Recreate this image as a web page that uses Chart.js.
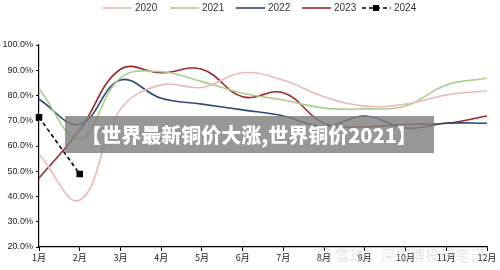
<!DOCTYPE html>
<html>
<head>
<meta charset="utf-8">
<script src="https://cdn.jsdelivr.net/npm/chart.js@4"></script>
<style>
    html, body { margin: 0; padding: 0; background: #fff; }
    #wrap { width: 500px; height: 270px; position: relative; }
</style>
</head>
<body>
<div id="wrap"><canvas id="chart"></canvas></div>
<script>
const months = ['1月', '2月', '3月', '4月', '5月', '6月', '7月', '8月', '9月', '10月', '11月', '12月'];
const years = ['2020', '2021', '2022', '2023', '2024'];
const y2020 = [56.8, 38.6, 74.5, 84.2, 83.2, 89.0, 86.0, 79.5, 75.8, 76.6, 80.2, 81.9];
const y2021 = [82.8, 62.8, 87.0, 89.4, 85.5, 80.9, 78.2, 75.0, 74.7, 75.8, 84.2, 86.8];
const y2022 = [78.5, 68.6, 86.1, 78.9, 76.6, 74.3, 71.9, 67.6, 71.9, 67.1, 69.0, 69.0];
const y2023 = [47.3, 66.3, 90.4, 89.0, 90.4, 79.5, 81.1, 69.0, 67.6, 68.6, 69.0, 71.9];
const y2024 = [71.4, 48.9];
const yTicks = [20, 30, 40, 50, 60, 70, 80, 90, 100];
const banner = '【世界最新铜价大涨,世界铜价2021】';
const watermark = '雪球：深福博投研笔记';

const colors = ['#e8b9b8', '#a9cf8c', '#2e4a7a', '#9e2a2b', '#000000'];

function lineSet(label, data, color) {
    return {
        label: label,
        data: data,
        borderColor: color,
        backgroundColor: color,
        borderWidth: 1.6,
        pointRadius: 0,
        tension: 0.4,
        fill: false,
    };
}

const datasets = [
    lineSet(years[0], y2020, colors[0]),
    lineSet(years[1], y2021, colors[1]),
    lineSet(years[2], y2022, colors[2]),
    lineSet(years[3], y2023, colors[3]),
    {
        label: years[4],
        data: y2024,
        borderColor: colors[4],
        backgroundColor: colors[4],
        borderWidth: 1.6,
        borderDash: [4, 3],
        pointStyle: 'rect',
        pointRadius: 3.5,
        tension: 0,
        fill: false,
    },
];

// legend drawn on top, lines instead of boxes
const legendPlugin = {
    id: 'lineLegend',
    afterDraw(chart) {
        const ctx = chart.ctx;
        const startX = [103, 170, 236, 302, 362];
        ctx.save();
        ctx.font = '10px "Liberation Sans", Arial, sans-serif';
        ctx.textBaseline = 'middle';
        chart.data.datasets.forEach((ds, i) => {
            const x = startX[i];
            const y = 8;
            ctx.beginPath();
            ctx.strokeStyle = ds.borderColor;
            ctx.lineWidth = 1.6;
            ctx.setLineDash(ds.borderDash || []);
            ctx.moveTo(x, y);
            ctx.lineTo(x + 29, y);
            ctx.stroke();
            ctx.setLineDash([]);
            if (ds.pointStyle === 'rect') {
                ctx.fillStyle = ds.borderColor;
                ctx.fillRect(x + 11, y - 3, 6, 6);
            }
            ctx.fillStyle = '#333';
            ctx.fillText(ds.label, x + 32, y + 0.5);
        });
        ctx.restore();
    }
};

// grey title strip and faint watermark over the plot
const overlayPlugin = {
    id: 'overlay',
    afterDraw(chart) {
        const ctx = chart.ctx;
        ctx.save();
        ctx.fillStyle = 'rgba(128,128,128,0.82)';
        ctx.fillRect(65, 116, 369, 37);
        ctx.fillStyle = '#fff';
        ctx.font = '900 20px "Noto Sans CJK SC", sans-serif';
        ctx.textAlign = 'center';
        ctx.textBaseline = 'middle';
        ctx.fillText(banner, 249, 135);

        ctx.fillStyle = 'rgba(170,170,170,0.4)';
        ctx.strokeStyle = 'rgba(170,170,170,0.45)';
        ctx.lineWidth = 1;
        ctx.beginPath();
        ctx.arc(325, 254, 6, 0, 2 * Math.PI);
        ctx.stroke();
        ctx.font = '300 15px "Noto Sans CJK SC", sans-serif';
        ctx.textAlign = 'left';
        ctx.fillText(watermark, 335, 255);
        ctx.restore();
    }
};

new Chart(document.getElementById('chart'), {
    type: 'line',
    data: { labels: months, datasets: datasets },
    options: {
        responsive: true,
        maintainAspectRatio: false,
        animation: false,
        layout: { padding: { top: 45, right: 13, left: 0, bottom: 0 } },
        plugins: {
            legend: { display: false },
            tooltip: { enabled: false },
        },
        scales: {
            x: {
                offset: false,
                afterFit: (s) => { s.height = 23; },
                grid: { display: true, drawOnChartArea: false, drawTicks: true, tickLength: 4, color: '#000' },
                border: { display: true, color: '#000', width: 1.2 },
                ticks: {
                    color: '#222',
                    font: { size: 9, family: '"Noto Sans CJK SC", sans-serif' },
                    padding: 1,
                    maxRotation: 0,
                    autoSkip: false,
                },
            },
            y: {
                min: yTicks[0],
                max: yTicks[yTicks.length - 1],
                afterFit: (s) => { s.width = 39; },
                afterBuildTicks: (s) => { s.ticks = yTicks.map(v => ({ value: v })); },
                grid: { display: true, drawOnChartArea: false, drawTicks: true, tickLength: 3, color: '#000' },
                border: { display: true, color: '#000', width: 1.2 },
                ticks: {
                    color: '#222',
                    font: { size: 9, family: '"Liberation Sans", Arial, sans-serif' },
                    padding: 3,
                    callback: (v) => v.toFixed(1) + '%',
                },
            },
        },
    },
    plugins: [legendPlugin, overlayPlugin],
});
</script>
</body>
</html>
